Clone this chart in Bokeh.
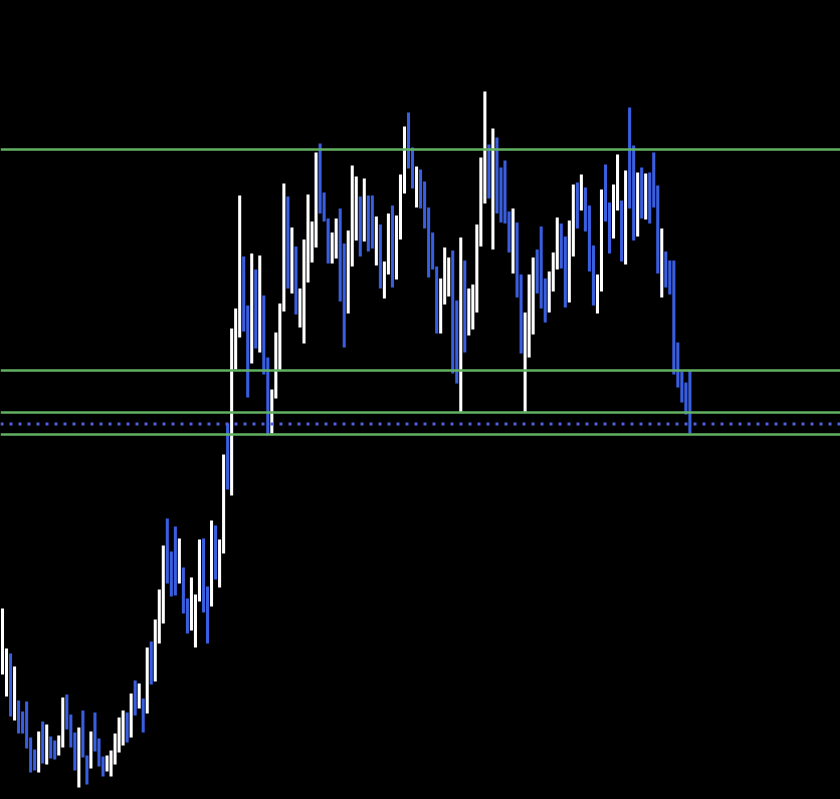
from bokeh.plotting import figure
from bokeh.models import ColumnDataSource, Range1d, Span
from bokeh.embed import file_html
from bokeh.resources import INLINE

# Bar data (price units, arbitrary scale)
highs = [192, 152, 147, 134, 100, 89, 99, 63, 51, 69, 79, 76, 64, 60, 65, 103, 106, 86, 68, 73,
         90, 45, 69, 88, 62, 44, 45, 50, 67, 83, 90, 88, 107, 120, 117, 102, 153, 159, 181, 211,
         255, 282, 249, 274, 262, 233, 202, 223, 206, 261, 262, 214, 280, 275, 261, 346, 377, 472, 492, 605,
         544, 495, 547, 531, 545, 505, 443, 411, 468, 497, 617, 604, 573, 554, 512, 561, 606, 579, 648, 657,
         608, 582, 568, 582, 592, 557, 570, 635, 624, 604, 622, 605, 605, 584, 576, 539, 587, 595, 585, 626,
         674, 688, 653, 634, 631, 619, 593, 568, 534, 522, 553, 543, 550, 500, 563, 540, 512, 516, 576, 643,
         709, 656, 672, 663, 633, 640, 589, 592, 578, 526, 488, 526, 543, 551, 574, 522, 529, 548, 583, 577,
         564, 580, 616, 618, 626, 613, 595, 555, 526, 611, 636, 598, 616, 646, 600, 630, 693, 655, 628, 633,
         627, 628, 648, 615, 572, 549, 540, 540, 458, 429, 418, 430]
lows = [126, 104, 84, 80, 67, 67, 52, 28, 30, 28, 37, 36, 42, 41, 45, 53, 71, 53, 30, 13,
        43, 16, 32, 49, 34, 24, 29, 24, 36, 48, 55, 58, 63, 85, 92, 68, 87, 116, 119, 157,
        177, 217, 204, 205, 217, 187, 167, 170, 153, 199, 188, 157, 194, 221, 213, 247, 311, 305, 431, 463,
        469, 403, 437, 452, 448, 426, 365, 367, 402, 430, 489, 512, 507, 486, 473, 457, 518, 538, 553, 587,
        579, 537, 537, 542, 499, 453, 487, 534, 560, 544, 559, 549, 552, 535, 512, 502, 526, 513, 521, 561,
        607, 632, 612, 593, 592, 572, 523, 531, 467, 467, 496, 504, 427, 417, 388, 448, 465, 471, 488, 554,
        597, 602, 551, 587, 578, 577, 548, 527, 503, 447, 388, 443, 466, 507, 492, 478, 488, 509, 531, 532,
        493, 498, 544, 572, 590, 569, 529, 495, 487, 509, 579, 547, 562, 590, 539, 536, 592, 560, 564, 582,
        581, 577, 593, 527, 503, 513, 506, 426, 413, 398, 386, 367]
up = [1, 1, 0, 1, 0, 0, 0, 0, 0, 1, 0, 1, 0, 0, 1, 1, 0, 0, 0, 1,
      0, 0, 1, 0, 0, 0, 1, 1, 1, 1, 1, 0, 1, 0, 1, 0, 1, 0, 1, 1,
      1, 0, 0, 0, 1, 0, 0, 1, 1, 1, 0, 0, 1, 0, 1, 1, 0, 1, 1, 1,
      0, 0, 1, 0, 1, 0, 0, 1, 1, 1, 1, 0, 1, 0, 1, 1, 1, 1, 1, 0,
      0, 0, 1, 1, 0, 0, 1, 1, 1, 0, 1, 0, 0, 1, 0, 1, 1, 0, 1, 1,
      1, 0, 0, 1, 0, 0, 0, 0, 0, 1, 1, 1, 0, 0, 1, 0, 1, 1, 1, 1,
      1, 0, 1, 0, 0, 0, 0, 1, 0, 0, 1, 1, 1, 0, 0, 0, 1, 1, 1, 0,
      0, 1, 1, 0, 1, 0, 0, 0, 1, 1, 0, 0, 1, 1, 0, 1, 0, 0, 1, 0,
      1, 0, 0, 0, 1, 0, 0, 0, 0, 0, 0, 0]

levels = [651, 430, 388, 366]
dotted_level = 376.5

UP_COLOR = "#ffffff"
DOWN_COLOR = "#3a5ee0"

idx = list(range(len(highs)))
colors = [UP_COLOR if u else DOWN_COLOR for u in up]
src = ColumnDataSource(dict(x=idx, top=highs, bottom=lows, color=colors))

p = figure(width=840, height=799, output_backend="svg", toolbar_location=None,
           x_range=Range1d(-0.4975, 208.46), y_range=Range1d(1, 800),
           min_border=0, background_fill_color="black", border_fill_color="black",
           outline_line_color=None)
p.axis.visible = False
p.grid.visible = False

for lv in levels:
    p.add_layout(Span(location=lv, dimension="width", line_color="#62b062", line_width=2.5))
p.add_layout(Span(location=dotted_level, dimension="width", line_color="#5060e0",
                  line_width=3, line_dash="3 6"))

p.vbar(x="x", top="top", bottom="bottom", width=0.76, fill_color="color",
       line_color=None, source=src)

html = file_html(p, INLINE)
html = html.replace("<body>", '<body style="background:#000000">')
open("out.html", "w").write(html)
